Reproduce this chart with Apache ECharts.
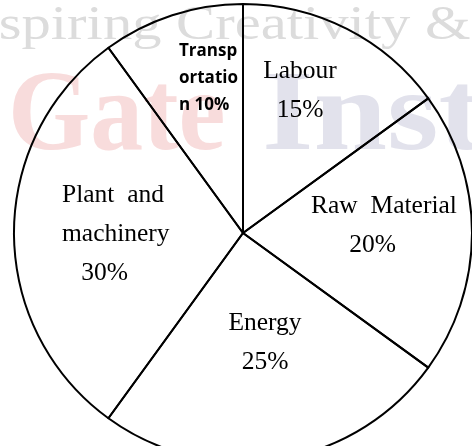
<!DOCTYPE html>
<html>
<head>
<meta charset="utf-8">
<script src="https://cdn.jsdelivr.net/npm/echarts@6/dist/echarts.min.js"></script>
<style>
html,body{margin:0;padding:0;background:#fff;}
#chart{width:472px;height:446px;}
</style>
</head>
<body>
<div id="chart"></div>
<script>
// ---- data ----
const categories = ["Labour", "Raw Material", "Energy", "Plant and machinery", "Transportation"];
const values = [15, 20, 25, 30, 10];
const labelTexts = ["Labour\n15%", "Raw  Material\n      20%", "Energy\n25%", "Plant  and\nmachinery\n   30%", "Transp\nortatio\nn 10%"];

// ---- layout (kept separate from data) ----
const labelAnchors = [
  {x: 300, y: 91, align: 'center'},
  {x: 311, y: 226, align: 'left'},
  {x: 265, y: 343, align: 'center'},
  {x: 62, y: 234, align: 'left'},
  {x: 179, y: 78, align: 'left'}
];
const serifStyle = {fontFamily: '"Liberation Serif", "DejaVu Serif", serif', fontSize: 25.5, lineHeight: 39, color: '#000'};
const boldSansStyle = {fontFamily: '"Open Sans", "Liberation Sans", sans-serif', fontWeight: 'bold', fontSize: 17, lineHeight: 27, color: '#000'};

const pieData = categories.map((c, i) => ({
  name: c,
  value: values[i],
  label: Object.assign({show: true, position: 'inside', formatter: labelTexts[i]},
    i === 4 ? boldSansStyle : serifStyle)
}));

const chart = echarts.init(document.getElementById('chart'), null, {renderer: 'canvas'});
chart.setOption({
  animation: false,
  backgroundColor: '#ffffff',
  graphic: [
    {type: 'text', left: -50, top: 2, z: -10, scaleX: 1.22, style: {text: 'Inspiring Creativity &', font: '48px "Liberation Serif", serif', fill: '#dcdcdc'}},
    {type: 'text', left: 8, top: 62, z: -10, scaleX: 0.92, style: {text: 'Gate', font: 'bold 115px "Liberation Serif", serif', fill: '#f8dcdc'}},
    {type: 'text', left: 262, top: 62, z: -10, scaleX: 1.15, style: {text: 'Inst', font: 'bold 115px "Liberation Serif", serif', fill: '#e2e2ec'}}
  ],
  series: [{
    type: 'pie',
    center: [243, 233],
    radius: 229,
    startAngle: 90,
    clockwise: true,
    avoidLabelOverlap: false,
    silent: true,
    emphasis: {disabled: true},
    itemStyle: {color: 'rgba(255,255,255,0)', borderColor: '#000', borderWidth: 2},
    labelLine: {show: false},
    labelLayout: function (p) {
      const a = labelAnchors[p.dataIndex];
      return {x: a.x, y: a.y, align: a.align, verticalAlign: 'middle'};
    },
    data: pieData
  }]
});
</script>
</body>
</html>
